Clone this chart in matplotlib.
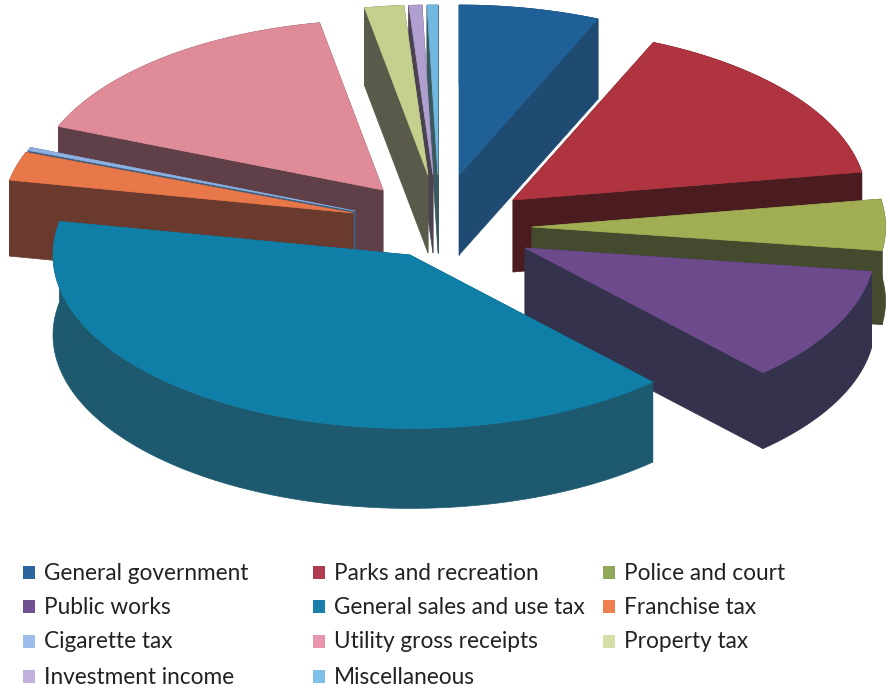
import matplotlib
matplotlib.use("Agg")
import matplotlib.pyplot as plt
from matplotlib.patches import Polygon, Rectangle
import numpy as np

labels = ["General government", "Parks and recreation", "Police and court",
          "Public works", "General sales and use tax", "Franchise tax",
          "Cigarette tax", "Utility gross receipts", "Property tax",
          "Investment income", "Miscellaneous"]
shares = [6.5, 15.9, 4.8, 10.9, 40.0, 2.7, 0.3, 16.0, 1.8, 0.6, 0.5]

top_colors = ["#1f6096", "#b0343f", "#a2ae54", "#6d4a8c", "#0f7fa8", "#e8784a",
              "#8fb0e0", "#e08c98", "#c5d08e", "#b0a0d0", "#70b8e0"]
side_colors = ["#1f4a72", "#4a1c20", "#434a2e", "#34324c", "#1d5a70", "#6b3a2e",
               "#3f5f80", "#5f4048", "#5a5a4a", "#4a4250", "#3a5a60"]
swatch_colors = ["#2a659c", "#b03a4e", "#8fa85a", "#6f5090", "#1a7fab", "#f07f50",
                 "#9dbdea", "#e896ac", "#d4e0a8", "#c0b0dc", "#7fc0e8"]

# where each exploded slice has its tip, picture pixels
tip_x = [459, 513, 532, 525, 410, 353, 355, 383, 428, 433, 438]
tip_y = [175, 200, 227, 248, 255, 213, 211, 190, 175, 175, 175]
radius_scale = [1, 1.01, 1.01, 1, 1.02, 1, 1, 1, 1, 1, 1]
depth = [80, 72, 74, 76, 80, 76, 76, 70, 78, 78, 78]
draw_order = [10, 9, 8, 0, 7, 6, 5, 1, 2, 3, 4]

RX, RY = 350, 170

fig = plt.figure(figsize=(8.9, 6.9), dpi=100)
ax = fig.add_axes([0, 0, 1, 1])
ax.set_xlim(0, 890)
ax.set_ylim(690, 0)
ax.axis("off")

edges = np.cumsum([0] + shares) * 3.6

for i in draw_order:
    ang = np.radians(np.linspace(edges[i], edges[i + 1], 80))
    arc_x = tip_x[i] + RX * radius_scale[i] * np.sin(ang)
    arc_y = tip_y[i] - RY * radius_scale[i] * np.cos(ang)
    xs = np.r_[tip_x[i], arc_x]
    ys = np.r_[tip_y[i], arc_y]
    d = depth[i]
    walls = [
        np.c_[np.r_[arc_x, arc_x[::-1]], np.r_[arc_y, arc_y[::-1] + d]],
        np.c_[[tip_x[i], arc_x[0], arc_x[0], tip_x[i]],
              [tip_y[i], arc_y[0], arc_y[0] + d, tip_y[i] + d]],
        np.c_[[tip_x[i], arc_x[-1], arc_x[-1], tip_x[i]],
              [tip_y[i], arc_y[-1], arc_y[-1] + d, tip_y[i] + d]],
    ]
    for wall in walls:
        ax.add_patch(Polygon(wall, closed=True, facecolor=side_colors[i],
                             edgecolor=side_colors[i], lw=0.5))
    ax.add_patch(Polygon(np.c_[xs, ys], closed=True, facecolor=top_colors[i],
                         edgecolor=top_colors[i], lw=0.5))

# legend filled row by row
col_x = [23, 313, 603]
row_y = [573, 607, 642, 677]
for i, name in enumerate(labels):
    x = col_x[i % 3]
    y = row_y[i // 3]
    ax.add_patch(Rectangle((x, y - 7), 12, 13, facecolor=swatch_colors[i], edgecolor="none"))
    ax.text(x + 21, y, name, fontsize=16.3, family="Lato", color="#222222", va="center", ha="left")

fig.savefig("out.png", dpi=100)
